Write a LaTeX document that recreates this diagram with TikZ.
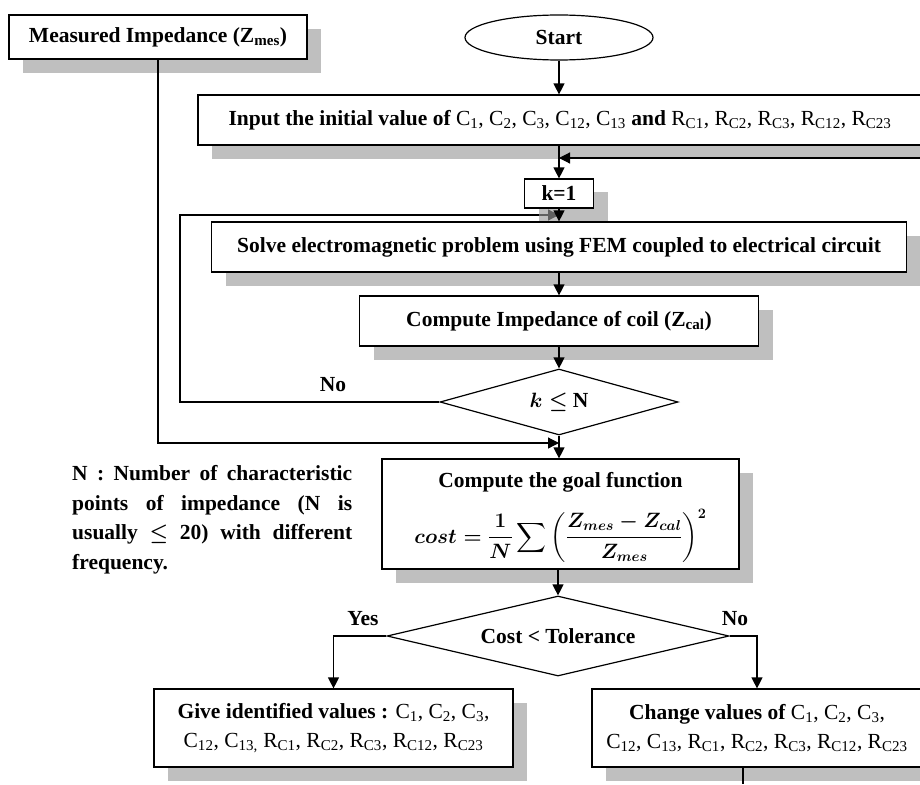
\documentclass[tikz,border=0pt]{standalone}
\usepackage{amsmath}
\usepackage{exscale}
\usepackage{fontspec}
\setmainfont{Liberation Serif}
\usetikzlibrary{shapes.geometric,arrows.meta,shadows,backgrounds}
\definecolor{shade}{HTML}{BFBFBF}
\newcommand\sbs[1]{\textsubscript{#1}}
\newcommand\goalformula{$\displaystyle cost=\frac{1}{N}\sum\left(\frac{Z_{mes}-Z_{cal}}{Z_{mes}}\right)^{2}$}
\begin{document}
\begin{tikzpicture}[x=1pt,y=-1pt,
  font=\fontsize{21.5}{25}\selectfont\bfseries,
  boxbase/.style={draw,line width=1.2pt,fill=white,rectangle,inner sep=0pt,align=center},
  box/.style={boxbase,drop shadow={shadow xshift=14pt,shadow yshift=-14pt,fill=shade,opacity=1}},
  twoline/.style={font=\fontsize{21.5}{29}\selectfont\bfseries},
  formulafont/.style={font=\fontsize{20}{24}\selectfont\bfseries\boldmath},
  dec/.style={draw,line width=1.2pt,shape=diamond,inner sep=0pt,fill=white},
  arr/.style={line width=1.2pt,-{Triangle[length=11pt,width=11pt]}},
  ln/.style={line width=1.2pt}]
\useasboundingbox (0,0) rectangle (920,784);

% nodes
\node[box,minimum width=298pt,minimum height=44pt] (meas) at (158,37) {Measured Impedance (Z\sbs{mes})};
\node[draw,line width=1.2pt,ellipse,inner sep=0pt,minimum width=188pt,minimum height=45pt] (start) at (559,37.5) {Start};
\node[box,minimum width=724pt,minimum height=50pt] (input) at (560,120)
  {Input the initial value of \mdseries C\sbs{1}, C\sbs{2}, C\sbs{3}, C\sbs{12}, C\sbs{13} \bfseries and \mdseries R\sbs{C1}, R\sbs{C2}, R\sbs{C3}, R\sbs{C12}, R\sbs{C23}};
\node[boxbase,minimum width=69pt,minimum height=29pt,
  drop shadow={shadow xshift=14pt,shadow yshift=-13pt,fill=black!40,opacity=0.63}] (k1) at (559,193.5) {k=1};
\node[box,minimum width=695pt,minimum height=50pt] (solve) at (559,247)
  {Solve electromagnetic problem using FEM coupled to electrical circuit};
\node[box,minimum width=399pt,minimum height=50pt] (zcal) at (559,321)
  {Compute Impedance of coil (Z\sbs{cal})};
\node[dec,aspect=3.6,minimum width=238pt,minimum height=66pt] (d1) at (559,402) {{\boldmath$k\le$} N};
\node[box,minimum width=357pt,minimum height=110pt] (goal) at (560.5,514) {};
\node[inner sep=0pt] (gtitle) at (560.5,482) {Compute the goal function};
\node[inner sep=0pt,formulafont] (gform) at (560.5,536) {\goalformula};
\node[anchor=north west,text width=280pt,align=justify,inner sep=0pt,
  font=\fontsize{21.5}{29.7}\selectfont\bfseries] (note) at (72,465)
  {N : Number of characteristic\linebreak points of impedance (N is\linebreak usually {\boldmath$\le$} 20) with different\linebreak frequency.};
\node[dec,aspect=4.3,minimum width=342pt,minimum height=80pt] (d2) at (558,636) {Cost < Tolerance};
\node[box,twoline,minimum width=359pt,minimum height=78pt] (give) at (333.5,728)
  {Give identified values : \mdseries C\sbs{1}, C\sbs{2}, C\sbs{3},\\ \mdseries C\sbs{12}, C\sbs{13,} R\sbs{C1}, R\sbs{C2}, R\sbs{C3}, R\sbs{C12}, R\sbs{C23}};
\node[box,twoline,minimum width=330pt,minimum height=78pt] (change) at (757,728)
  {Change values of \mdseries C\sbs{1}, C\sbs{2}, C\sbs{3},\\ \mdseries C\sbs{12}, C\sbs{13}, R\sbs{C1}, R\sbs{C2}, R\sbs{C3}, R\sbs{C12}, R\sbs{C23}};

% labels
\node (no1) at (333,385) {No};
\node (yes) at (363,619) {Yes};
\node (no2) at (735,619) {No};

% helper coordinates
\coordinate (loopin) at (920,158);
\coordinate (nocorner) at (180,215);
\coordinate (mcorner) at (158,443);
\coordinate (cout) at (743,784);

% connectors
\begin{scope}[on background layer]
\draw[arr] (d1.west) -- (d1.west -| nocorner) -- (nocorner) -- (nocorner -| k1);
\end{scope}
\draw[arr] (start.south) -- (start.south |- input.north);
\draw[arr] (input.south -| k1) -- (k1.north);
\draw[arr] (loopin) -- (loopin -| k1);
\draw[arr] (k1.south) -- (k1.south |- solve.north);
\draw[arr] (solve.south -| k1) -- (zcal.north -| k1);
\draw[arr] (zcal.south -| d1) -- (d1.north);
\draw[arr] (meas.south) -- (mcorner) -- (mcorner -| d1);
\draw[arr] (d1.south) -- (d1.south |- goal.north);
\draw[arr] (goal.south -| d2) -- (d2.north);
\draw[arr] (d2.west) -| (give.north);
\draw[arr] (d2.east) -| (change.north);
\draw[ln] (change.south -| cout) -- (cout);
\end{tikzpicture}
\end{document}
